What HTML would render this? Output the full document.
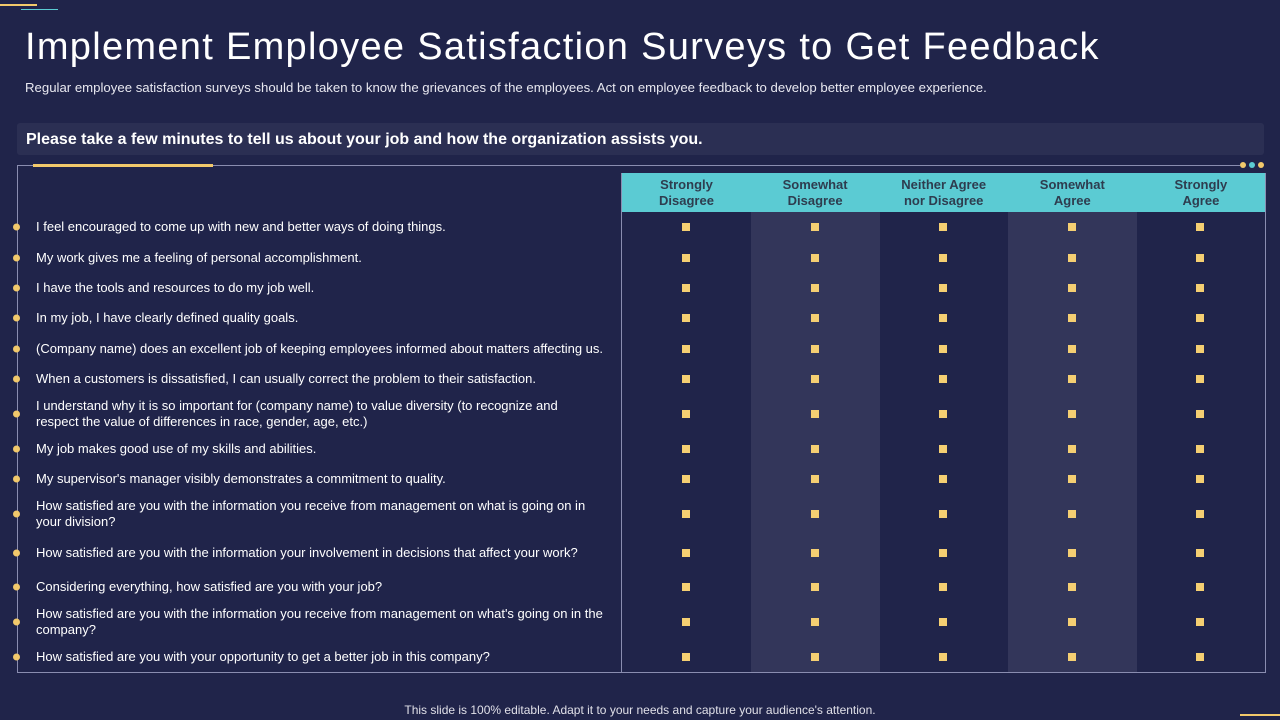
<!DOCTYPE html>
<html><head><meta charset="utf-8"><style>
body{margin:0;width:1280px;height:720px;background:#20244a;position:relative;overflow:hidden;font-family:"Liberation Sans",sans-serif;color:#fff}
.a{position:absolute}
.q{position:absolute;left:36px;width:572px;font-size:13px;line-height:16px;color:#fff;transform:translateY(-50%)}
.d{position:absolute;left:13px;width:7px;height:7px;border-radius:50%;background:#f2c96b;transform:translateY(-50%)}
.m{position:absolute;width:8px;height:8px;background:#f5cf72;transform:translate(-50%,-50%)}
.h{position:absolute;top:173px;height:39px;width:129px;background:#5bcbd3;color:#2e3d4f;font-weight:bold;font-size:13px;line-height:16px;text-align:center;display:flex;align-items:center;justify-content:center}
</style></head><body>
<div class="a" style="left:0;top:4px;width:37px;height:2px;background:#f2c96b"></div>
<div class="a" style="left:21px;top:9px;width:37px;height:1px;background:#5bcbd3"></div>
<div class="a" style="left:25px;top:24px;font-size:38px;line-height:46px;letter-spacing:1.3px;color:#fff">Implement Employee Satisfaction Surveys to Get Feedback</div>
<div class="a" style="left:25px;top:80px;font-size:13.2px;color:#e8e8f0">Regular employee satisfaction surveys should be taken to know the grievances of the employees. Act on employee feedback to develop better employee experience.</div>
<div class="a" style="left:17px;top:123px;width:1247px;height:32px;background:#2b2f53;border-radius:3px"></div>
<div class="a" style="left:26px;top:131px;font-size:16px;font-weight:bold">Please take a few minutes to tell us about your job and how the organization assists you.</div>
<div class="a" style="left:17px;top:165px;width:1223px;height:1px;background:#8a8db0"></div>
<div class="a" style="left:17px;top:165px;width:1px;height:508px;background:#8a8db0"></div>
<div class="a" style="left:17px;top:672px;width:1249px;height:1px;background:#8a8db0"></div>
<div class="a" style="left:1265px;top:173px;width:1px;height:500px;background:#8a8db0"></div>
<div class="a" style="left:621px;top:173px;width:1px;height:500px;background:#8a8db0"></div>
<div class="a" style="left:33px;top:164px;width:180px;height:3px;background:#f2c96b"></div>
<div class="a" style="left:1240px;top:162px;width:6px;height:6px;border-radius:50%;background:#f2c96b"></div>
<div class="a" style="left:1249px;top:162px;width:6px;height:6px;border-radius:50%;background:#5bcbd3"></div>
<div class="a" style="left:1258px;top:162px;width:6px;height:6px;border-radius:50%;background:#f2c96b"></div>
<div id="t"></div>
<div class="a" style="left:0;width:1280px;top:703px;text-align:center;font-size:12px;color:#e0e0e8">This slide is 100% editable. Adapt it to your needs and capture your audience's attention.</div>
<div class="a" style="left:1240px;top:714px;width:40px;height:2px;background:#f2c96b"></div>
<script>
const scale=["Strongly<br>Disagree","Somewhat<br>Disagree","Neither Agree<br>nor Disagree","Somewhat<br>Agree","Strongly<br>Agree"];
const questions=["I feel encouraged to come up with new and better ways of doing things.","My work gives me a feeling of personal accomplishment.","I have the tools and resources to do my job well.","In my job, I have clearly defined quality goals.","(Company name) does an excellent job of keeping employees informed about matters affecting us.","When a customers is dissatisfied, I can usually correct the problem to their satisfaction.","I understand why it is so important for (company name) to value diversity (to recognize and respect the value of differences in race, gender, age, etc.)","My job makes good use of my skills and abilities.","My supervisor's manager visibly demonstrates a commitment to quality.","How satisfied are you with the information you receive from management on what is going on in your division?","How satisfied are you with the information your involvement in decisions that affect your work?","Considering everything, how satisfied are you with your job?","How satisfied are you with the information you receive from management on what's going on in the company?","How satisfied are you with your opportunity to get a better job in this company?"];
const rowY=[227,258,288,318,349,379,414,449,479,514,553,587,622,657];
const t=document.getElementById('t');
scale.forEach((s,i)=>{
 const x=622+i*128.6;
 if(i%2==1){const b=document.createElement('div');b.className='a';b.style.cssText=`left:${x}px;top:212px;width:129px;height:460px;background:#33365a`;
 
 t.appendChild(b);}
 const h=document.createElement('div');h.className='h';h.style.left=x+'px';h.innerHTML=s;
 
 t.appendChild(h);
});
questions.forEach((q,r)=>{
 const y=rowY[r];
 const d=document.createElement('div');d.className='d';d.style.top=y+'px';
 
 t.appendChild(d);
 const e=document.createElement('div');e.className='q';e.style.top=y+'px';e.textContent=q;
 if(r==6) e.style.width='540px';
 
 t.appendChild(e);
 scale.forEach((s,i)=>{
  const m=document.createElement('div');m.className='m';m.style.left=(686+i*128.6)+'px';m.style.top=y+'px';
  
  t.appendChild(m);
 });
});
</script>
</body></html>
